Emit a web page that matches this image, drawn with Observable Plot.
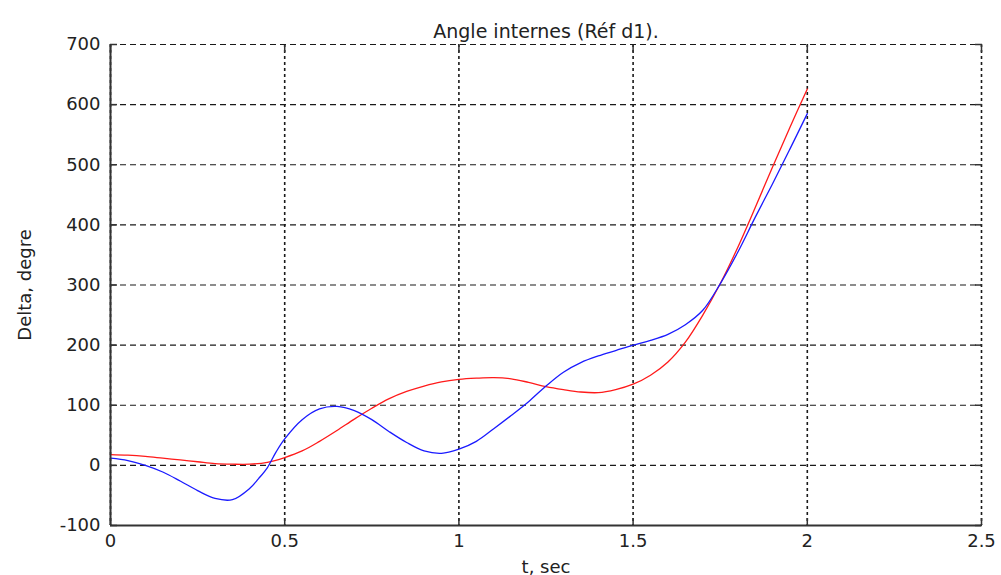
<!DOCTYPE html>
<html>
<head>
<meta charset="utf-8">
<script src="https://cdn.jsdelivr.net/npm/d3@7"></script>
<script src="https://cdn.jsdelivr.net/npm/@observablehq/plot@0.6"></script>
<style>
  html, body { margin: 0; padding: 0; background: #fff; }
  svg { display: block; }
</style>
</head>
<body>
<div id="chart"></div>
<script>
const title = "Angle internes (Réf d1).";
const xLabel = "t, sec";
const yLabel = "Delta, degre";

const blueT = [0, 0.05, 0.1, 0.15, 0.2, 0.25, 0.3, 0.35, 0.4, 0.425, 0.45, 0.475, 0.5, 0.55, 0.6, 0.65, 0.7, 0.75, 0.8, 0.85, 0.9, 0.95, 1.0,
               1.05, 1.1, 1.15, 1.2, 1.25, 1.3, 1.35, 1.4, 1.45, 1.5, 1.55, 1.6, 1.65, 1.7, 1.75, 1.8, 1.85, 1.9, 1.95, 2.0];
const blue = [12, 8, 0, -11, -26, -42, -55, -57, -38, -22, -4, 22, 44, 76, 94, 98, 91, 76, 56, 38, 24, 20, 27,
              40, 61, 83, 106, 132, 155, 171, 182, 191, 200, 208, 218, 234, 258, 302, 354, 412, 468, 526, 585];
const redT = [0, 0.05, 0.1, 0.15, 0.2, 0.25, 0.3, 0.35, 0.4, 0.45, 0.5, 0.55, 0.6, 0.65, 0.7, 0.75, 0.8, 0.85, 0.9, 0.95, 1.0,
              1.05, 1.1, 1.15, 1.2, 1.25, 1.3, 1.35, 1.4, 1.45, 1.5, 1.55, 1.6, 1.65, 1.7, 1.75, 1.8, 1.85, 1.9, 1.95, 2.0];
const red = [18, 17, 15, 12, 9, 6, 3, 2, 2, 5, 13, 24, 40, 58, 77, 95, 111, 123, 132, 139, 143,
             145, 146, 144, 138, 131, 126, 122, 121, 126, 135, 150, 172, 205, 250, 302, 362, 428, 496, 562, 626];

const xTicks = [0, 0.5, 1, 1.5, 2, 2.5];
const yTicks = [-100, 0, 100, 200, 300, 400, 500, 600, 700];

const blueData = blueT.map((x, i) => ({t: x, v: blue[i]}));
const redData = redT.map((x, i) => ({t: x, v: red[i]}));

const font = "DejaVu Sans, Liberation Sans, Arial, sans-serif";
const fmt = d => String(d);

const chart = Plot.plot({
  width: 1001,
  height: 575,
  marginLeft: 110,
  marginRight: 20,
  marginTop: 44,
  marginBottom: 50,
  style: {fontFamily: font, fontSize: "18px", color: "#222", background: "#fff"},
  x: {domain: [0, 2.5], ticks: xTicks},
  y: {domain: [-100, 700], ticks: yTicks},
  marks: [
    Plot.gridY(yTicks, {stroke: "#1a1a1a", strokeOpacity: 1, strokeWidth: 1.2, strokeDasharray: "6,4"}),
    Plot.gridX(xTicks, {stroke: "#1a1a1a", strokeOpacity: 1, strokeWidth: 1.6, strokeDasharray: "3,3"}),
    Plot.line(redData, {x: "t", y: "v", stroke: "#ff1a1a", strokeWidth: 1.3, curve: "catmull-rom"}),
    Plot.line(blueData, {x: "t", y: "v", stroke: "#1a1aff", strokeWidth: 1.3, curve: "catmull-rom"}),
    Plot.ruleX([0], {stroke: "#333", strokeWidth: 2}),
    Plot.ruleY([-100], {stroke: "#333", strokeWidth: 2}),
    Plot.axisX(xTicks, {anchor: "bottom", tickSize: 0, tickPadding: 9, fontSize: 18, tickFormat: fmt,
      label: xLabel, labelAnchor: "center", labelArrow: "none", labelOffset: 47}),
    Plot.axisX(xTicks, {anchor: "bottom", tickSize: -7, tickFormat: () => "", label: null, stroke: "#333", strokeWidth: 1.5}),
    Plot.axisX(xTicks, {anchor: "top", tickSize: -7, tickFormat: () => "", label: null, stroke: "#333", strokeWidth: 1.5}),
    Plot.axisY(yTicks, {anchor: "left", tickSize: 0, tickPadding: 10, fontSize: 18, tickFormat: fmt,
      label: yLabel, labelAnchor: "center", labelArrow: "none", labelOffset: 92}),
    Plot.axisY(yTicks, {anchor: "left", tickSize: -7, tickFormat: () => "", label: null, stroke: "#333", strokeWidth: 1.5}),
    Plot.axisY(yTicks, {anchor: "right", tickSize: -7, tickFormat: () => "", label: null, stroke: "#333", strokeWidth: 1.5}),
    Plot.text([title], {frameAnchor: "top", dy: -20, fontSize: 19, fill: "#222"})
  ]
});

document.getElementById("chart").appendChild(chart);
</script>
</body>
</html>
